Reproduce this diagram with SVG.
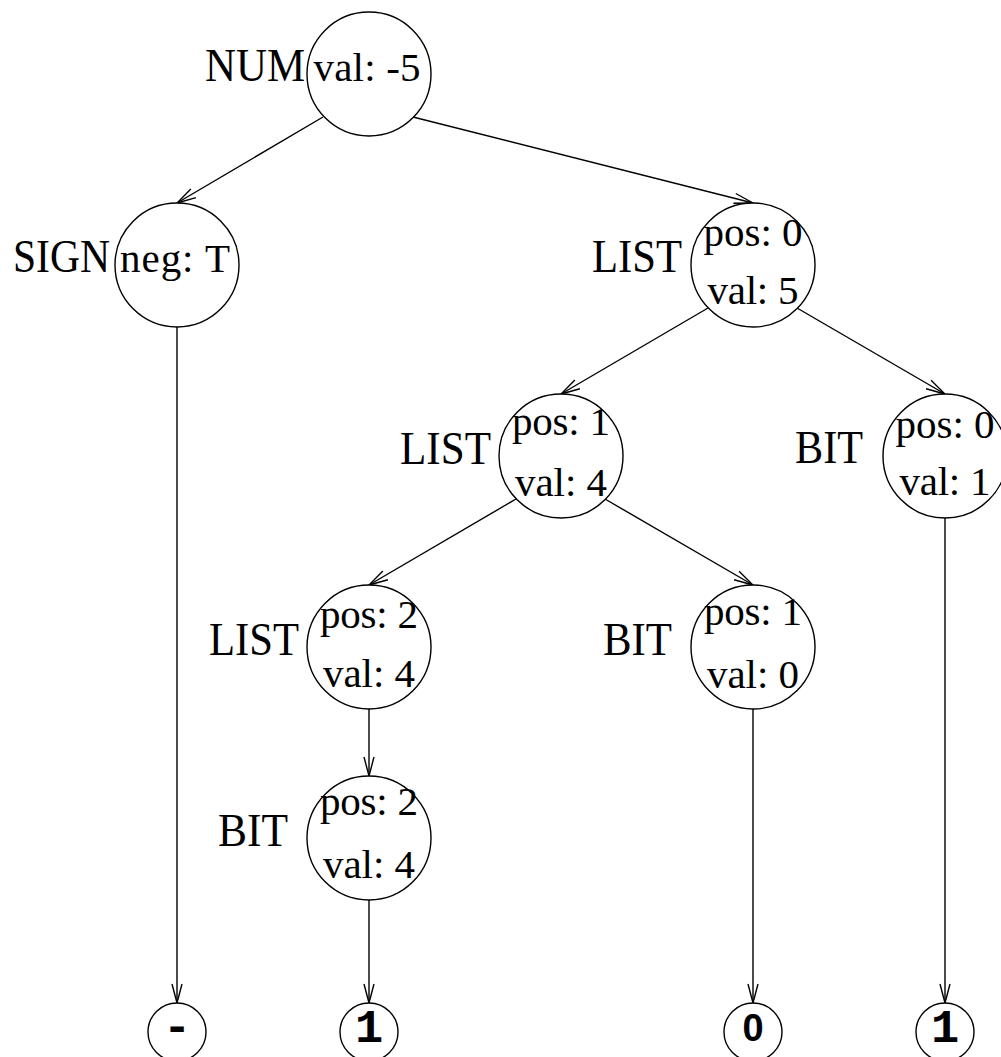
<svg xmlns="http://www.w3.org/2000/svg" width="1001" height="1057" viewBox="0 0 1001 1057">
  <defs>
    <style>
      .node { fill: #fff; stroke: #000; stroke-width: 1.4; }
      .edge { fill: none; stroke: #000; stroke-width: 1.4; marker-end: url(#vee); }
      .lbl { font-family: "Liberation Serif", "Times New Roman", serif; font-size: 47px; fill: #000; }
      .attr { font-family: "Liberation Serif", "Times New Roman", serif; font-size: 41px; fill: #000; text-anchor: middle; }
      .tok { font-family: "Liberation Mono", "Courier New", monospace; font-weight: bold; font-size: 47px; fill: #000; text-anchor: middle; }
      .tok.plain0 { font-family: "Liberation Sans", Arial, sans-serif; font-size: 38px; }
    </style>
    <marker id="vee" markerUnits="userSpaceOnUse" markerWidth="24" markerHeight="14" viewBox="-21 -7 24 14" refX="0" refY="0" orient="auto">
      <path d="M-19,-5 L0,0 L-19,5" fill="none" stroke="#000" stroke-width="1.4"/>
    </marker>
  </defs>
  <rect width="1001" height="1057" fill="#fff"/>

  <g id="connectors">
    <line class="edge" x1="323" y1="117" x2="177" y2="203"/>
    <line class="edge" x1="413" y1="117" x2="753" y2="203"/>
    <line class="edge" x1="708" y1="308" x2="561" y2="394"/>
    <line class="edge" x1="797" y1="308" x2="945" y2="394"/>
    <line class="edge" x1="516" y1="499" x2="369" y2="585"/>
    <line class="edge" x1="605" y1="499" x2="753" y2="585"/>
    <line class="edge" x1="369" y1="709" x2="369" y2="776"/>
    <line class="edge" x1="177" y1="327" x2="177" y2="1003"/>
    <line class="edge" x1="369" y1="900" x2="369" y2="1003"/>
    <line class="edge" x1="753" y1="709" x2="753" y2="1003"/>
    <line class="edge" x1="945" y1="518" x2="945" y2="1003"/>
  </g>

  <g id="num">
    <circle class="node" cx="369" cy="74" r="62"/>
    <text class="lbl" x="205" y="81" textLength="100" lengthAdjust="spacingAndGlyphs">NUM</text>
    <text class="attr" x="367" y="81" textLength="107">val: -5</text>
  </g>

  <g id="sign">
    <circle class="node" cx="177" cy="265" r="62"/>
    <text class="lbl" x="13" y="272" textLength="97" lengthAdjust="spacingAndGlyphs">SIGN</text>
    <text class="attr" x="175" y="272" textLength="110">neg: T</text>
  </g>

  <g id="list0">
    <circle class="node" cx="753" cy="265" r="62"/>
    <text class="lbl" x="592" y="272" textLength="90" lengthAdjust="spacingAndGlyphs">LIST</text>
    <text class="attr" x="753" y="246" textLength="99">pos: 0</text>
    <text class="attr" x="753" y="304" textLength="91">val: 5</text>
  </g>

  <g id="list1">
    <circle class="node" cx="561" cy="456" r="62"/>
    <text class="lbl" x="400" y="464" textLength="91" lengthAdjust="spacingAndGlyphs">LIST</text>
    <text class="attr" x="561" y="435" textLength="98">pos: 1</text>
    <text class="attr" x="561" y="496" textLength="92">val: 4</text>
  </g>

  <g id="bit0">
    <circle class="node" cx="945" cy="456" r="62"/>
    <text class="lbl" x="795" y="463" textLength="68" lengthAdjust="spacingAndGlyphs">BIT</text>
    <text class="attr" x="945" y="438" textLength="99">pos: 0</text>
    <text class="attr" x="945" y="495" textLength="91">val: 1</text>
  </g>

  <g id="list2">
    <circle class="node" cx="369" cy="647" r="62"/>
    <text class="lbl" x="209" y="655" textLength="90" lengthAdjust="spacingAndGlyphs">LIST</text>
    <text class="attr" x="369" y="628" textLength="98">pos: 2</text>
    <text class="attr" x="369" y="687" textLength="92">val: 4</text>
  </g>

  <g id="bit1">
    <circle class="node" cx="753" cy="647" r="62"/>
    <text class="lbl" x="603" y="655" textLength="69" lengthAdjust="spacingAndGlyphs">BIT</text>
    <text class="attr" x="753" y="625" textLength="98">pos: 1</text>
    <text class="attr" x="753" y="688" textLength="92">val: 0</text>
  </g>

  <g id="bit2">
    <circle class="node" cx="369" cy="838" r="62"/>
    <text class="lbl" x="218" y="846" textLength="70" lengthAdjust="spacingAndGlyphs">BIT</text>
    <text class="attr" x="369" y="815" textLength="98">pos: 2</text>
    <text class="attr" x="369" y="878" textLength="92">val: 4</text>
  </g>

  <g id="tok-minus">
    <circle class="node" cx="177" cy="1032" r="29"/>
    <text class="tok" x="177" y="1041">-</text>
  </g>
  <g id="tok-1a">
    <circle class="node" cx="369" cy="1032" r="29"/>
    <text class="tok" x="369" y="1042">1</text>
  </g>
  <g id="tok-0">
    <circle class="node" cx="753" cy="1032" r="29"/>
    <text class="tok plain0" x="753" y="1041">0</text>
  </g>
  <g id="tok-1b">
    <circle class="node" cx="945" cy="1032" r="29"/>
    <text class="tok" x="945" y="1042">1</text>
  </g>
</svg>
